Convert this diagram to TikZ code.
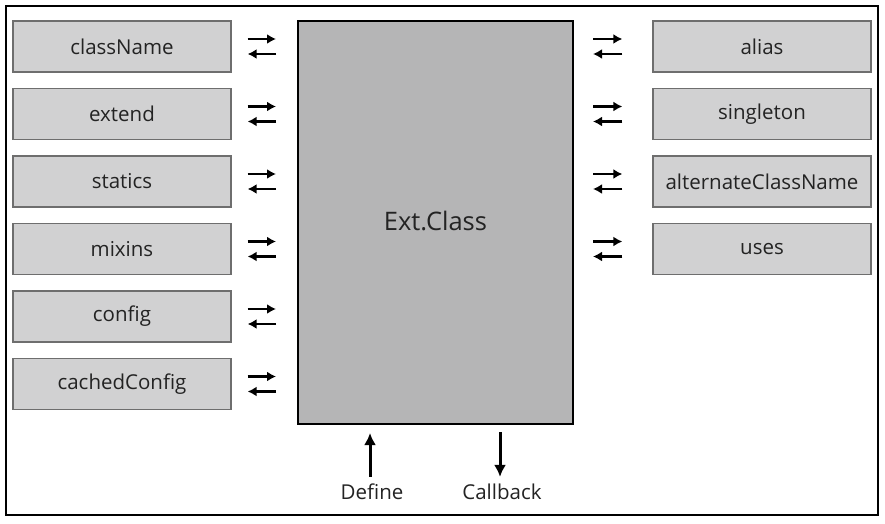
\documentclass[tikz,border=0pt]{standalone}
\usepackage{fontspec}
\setmainfont{Open Sans}
\usetikzlibrary{arrows.meta,calc}
\definecolor{boxfill}{RGB}{209,209,210}
\definecolor{boxline}{RGB}{110,110,110}
\definecolor{mainfill}{RGB}{181,181,182}
\definecolor{txt}{RGB}{35,35,35}
\tikzset{
  x=1pt,y=-1pt,
  propbox/.style={draw=boxline,line width=1.3pt,fill=boxfill,minimum width=218pt,minimum height=51pt,inner sep=0pt,text=txt,font=\fontsize{20.5}{24}\selectfont},
  mainbox/.style={draw=black,line width=2pt,fill=mainfill,minimum width=275pt,minimum height=403pt,inner sep=0pt},
  lbl/.style={text=txt,font=\fontsize{20.5}{24}\selectfont,inner sep=0pt},
  conn/.style={line width=2.6pt,-{Latex[length=9pt,width=10pt]}},
  bigconn/.style={line width=3pt,-{Latex[length=12pt,width=12pt]}},
}
\begin{document}
\begin{tikzpicture}
\useasboundingbox (0,0) rectangle (885,524);
\draw[line width=2pt] (6,6) rectangle (878,515);
\node[mainbox] (ext) at (435.5,222.5) {};
\node[text=txt,font=\fontsize{25.5}{30}\selectfont] (extlbl) at (435.5,221) {Ext.Class};
% left boxes
\node[propbox] (cn) at (122,46.5) {className};
\node[propbox] (ex) at (122,114) {extend};
\node[propbox] (st) at (122,181.5) {statics};
\node[propbox] (mi) at (122,249) {mixins};
\node[propbox] (co) at (122,316.5) {config};
\node[propbox] (cc) at (122,384) {cachedConfig};
% right boxes
\node[propbox] (al) at (762,46.5) {alias};
\node[propbox] (si) at (762,114) {singleton};
\node[propbox] (ac) at (762,181.5) {alternateClassName};
\node[propbox] (us) at (762,249) {uses};
% left arrows
\foreach \b in {cn,ex,st,mi,co,cc}{
  \draw[conn,shorten <=16pt,shorten >=21pt] ($(\b.east)+(0,-7.5)$) -- ($(\b.east -| ext.west)+(0,-7.5)$);
  \draw[conn,shorten <=21pt,shorten >=16pt] ($(\b.east -| ext.west)+(0,7.5)$) -- ($(\b.east)+(0,7.5)$);
}
% right arrows
\foreach \b in {al,si,ac,us}{
  \draw[conn,shorten <=19pt,shorten >=30pt] ($(\b.west -| ext.east)+(0,-7.5)$) -- ($(\b.west)+(0,-7.5)$);
  \draw[conn,shorten <=30pt,shorten >=19pt] ($(\b.west)+(0,7.5)$) -- ($(\b.west -| ext.east)+(0,7.5)$);
}
% bottom
\node[lbl] (def) at (372,492) {Define};
\node[lbl] (cb) at (502,492) {Callback};
\draw[bigconn,shorten <=7pt,shorten >=8pt] ($(def.north)+(-2,0)$) -- ($(def.north |- ext.south)+(-2,0)$);
\draw[bigconn,shorten <=7pt,shorten >=7pt] ($(cb.north |- ext.south)+(-2,0)$) -- ($(cb.north)+(-2,0)$);
\end{tikzpicture}
\end{document}
